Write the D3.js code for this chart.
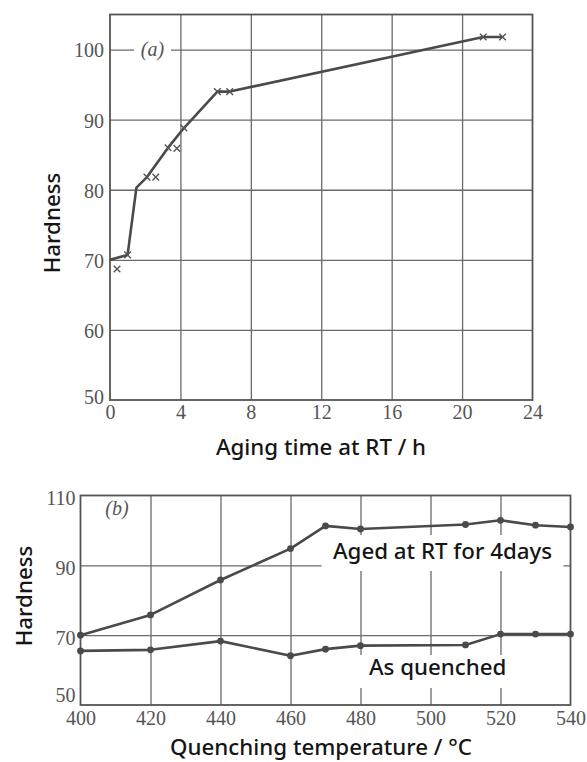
<!DOCTYPE html>
<html>
<head>
<meta charset="utf-8">
<script src="https://cdn.jsdelivr.net/npm/d3@7"></script>
<style>
  html, body { margin: 0; padding: 0; background: #fff; }
  svg { display: block; }
  .tick-label { font-family: "Liberation Serif", "DejaVu Serif", serif; fill: #555; }
  .title { font-family: "Noto Sans", "DejaVu Sans", sans-serif; font-weight: 500; fill: #151515; }
</style>
</head>
<body>
<svg id="chart" width="587" height="762"></svg>
<script>
// (a) hardness vs. aging time at room temperature
const agingTicksX = [0, 4, 8, 12, 16, 20, 24];
const agingTicksY = [50, 60, 70, 80, 90, 100];
const agingCurveTime = [0, 1, 1.5, 2.1, 3.3, 4.2, 6.1, 6.8, 21.2, 22.3];
const agingCurveHardness = [70, 70.7, 80.3, 81.8, 86, 88.8, 94, 94, 101.8, 101.8];
const agingPointTime = [0.4, 1.0, 2.1, 2.6, 3.3, 3.8, 4.2, 6.1, 6.8, 21.2, 22.3];
const agingPointHardness = [68.7, 70.7, 81.8, 81.8, 86, 85.9, 88.8, 94, 94, 101.8, 101.8];

// (b) hardness vs. quenching temperature
const quenchTicksX = [400, 420, 440, 460, 480, 500, 520, 540];
const quenchTicksY = [50, 70, 90, 110];
const quenchTemp = [400, 420, 440, 460, 470, 480, 510, 520, 530, 540];
const agedHardness = [70, 75.8, 85.8, 94.8, 101.3, 100.4, 101.7, 102.9, 101.5, 101.0];
const quenchedHardness = [65.5, 65.8, 68.3, 64.1, 66.0, 67.0, 67.2, 70.3, 70.3, 70.3];

const svg = d3.select("#chart");
const gridColor = "#6a6a6a";
const lineColor = "#4a4a4a";
const tickFont = 20;
const titleFont = 22.3;

function drawFrame(g, x, y, xGrid, yGrid) {
  const [x0, x1] = x.range();
  const [y0, y1] = y.range();
  // grid lines via axes with full-length ticks
  g.append("g")
    .attr("transform", `translate(0,${y0})`)
    .call(d3.axisBottom(x).tickValues(xGrid).tickSize(-(y0 - y1)).tickFormat(""))
    .call(a => a.select(".domain").remove())
    .call(a => a.selectAll("line").attr("stroke", gridColor).attr("stroke-width", 1.3));
  g.append("g")
    .attr("transform", `translate(${x0},0)`)
    .call(d3.axisLeft(y).tickValues(yGrid).tickSize(-(x1 - x0)).tickFormat(""))
    .call(a => a.select(".domain").remove())
    .call(a => a.selectAll("line").attr("stroke", gridColor).attr("stroke-width", 1.3));
  g.append("rect")
    .attr("x", x0).attr("y", y1)
    .attr("width", x1 - x0).attr("height", y0 - y1)
    .attr("fill", "none").attr("stroke", "#555").attr("stroke-width", 1.8);
}

function drawTickLabels(g, x, y, xTicks, yTicks, xPad, yPad, yShift) {
  const [x0] = x.range();
  const [y0] = y.range();
  g.append("g")
    .attr("transform", `translate(0,${y0})`)
    .call(d3.axisBottom(x).tickValues(xTicks).tickSize(0).tickPadding(xPad))
    .call(a => a.select(".domain").remove())
    .call(a => a.selectAll("text").attr("class", "tick-label").attr("font-size", tickFont).attr("fill", "#555"));
  g.append("g")
    .attr("transform", `translate(${x0},0)`)
    .call(d3.axisLeft(y).tickValues(yTicks).tickSize(0).tickPadding(yPad))
    .call(a => a.select(".domain").remove())
    .call(a => a.selectAll("text").attr("class", "tick-label").attr("font-size", tickFont).attr("fill", "#555")
      .attr("dy", d => (yShift(d) + 0.32 * tickFont) + "px"));
}

// ---------- panel (a) ----------
const xa = d3.scaleLinear().domain([0, 24]).range([110, 532.5]);
const ya = d3.scaleLinear().domain([50, 105]).range([400, 14.5]);
const ga = svg.append("g");
drawFrame(ga, xa, ya, [4, 8, 12, 16, 20], [60, 70, 80, 90, 100]);
drawTickLabels(ga, xa, ya, agingTicksX, agingTicksY, 5, 6, d => (d === 50 ? -3 : 1));

// panel tag sitting on the 100 grid line
const tagA = ga.append("g");
tagA.append("rect")
  .attr("x", 134).attr("y", ya(100) - 11)
  .attr("width", 37).attr("height", 22).attr("fill", "#fff");
tagA.append("text")
  .attr("x", 152.5).attr("y", ya(100) + 6)
  .attr("text-anchor", "middle")
  .attr("font-family", "Liberation Serif, serif").attr("font-style", "italic")
  .attr("font-size", 20).attr("fill", "#555")
  .text("(a)");

ga.append("path")
  .datum(d3.zip(agingCurveTime, agingCurveHardness))
  .attr("fill", "none").attr("stroke", lineColor).attr("stroke-width", 2.6)
  .attr("stroke-linejoin", "round")
  .attr("d", d3.line().x(d => xa(d[0])).y(d => ya(d[1])));

const cross = d3.symbol().type(d3.symbolX).size(30);
ga.append("g").selectAll("path")
  .data(d3.zip(agingPointTime, agingPointHardness))
  .join("path")
  .attr("transform", d => `translate(${xa(d[0])},${ya(d[1])})`)
  .attr("d", cross)
  .attr("fill", "none").attr("stroke", "#555").attr("stroke-width", 1.4);

ga.append("text").attr("class", "title")
  .attr("x", 321).attr("y", 455).attr("text-anchor", "middle")
  .attr("font-size", titleFont).text("Aging time at RT / h");
ga.append("text").attr("class", "title")
  .attr("transform", "translate(60,223) rotate(-90)").attr("text-anchor", "middle")
  .attr("font-size", titleFont).text("Hardness");

// ---------- panel (b) ----------
const xb = d3.scaleLinear().domain([400, 540]).range([80.5, 570.5]);
const yb = d3.scaleLinear().domain([50, 110]).range([705, 495.5]);
const gb = svg.append("g");
drawFrame(gb, xb, yb, [420, 440, 460, 480, 500, 520], [70, 90]);
drawTickLabels(gb, xb, yb, quenchTicksX, quenchTicksY, 6, 5, d => (d === 50 ? -10 : 3));

gb.append("text")
  .attr("x", 117).attr("y", yb(104.3))
  .attr("text-anchor", "middle")
  .attr("font-family", "Liberation Serif, serif").attr("font-style", "italic")
  .attr("font-size", 20).attr("fill", "#555")
  .text("(b)");

const lineB = d3.line().x(d => xb(d[0])).y(d => yb(d[1]));
[agedHardness, quenchedHardness].forEach(series => {
  const pts = d3.zip(quenchTemp, series);
  gb.append("path").datum(pts)
    .attr("fill", "none").attr("stroke", lineColor).attr("stroke-width", 2.6)
    .attr("stroke-linejoin", "round").attr("d", lineB);
  gb.append("g").selectAll("circle").data(pts).join("circle")
    .attr("cx", d => xb(d[0])).attr("cy", d => yb(d[1])).attr("r", 3.4)
    .attr("fill", lineColor);
});

// series labels on white boxes
gb.append("rect").attr("x", 321.5).attr("y", 535).attr("width", 242).attr("height", 36).attr("fill", "#fff");
gb.append("text").attr("class", "title")
  .attr("x", 333).attr("y", 559).attr("font-size", titleFont).text("Aged at RT for 4days");
gb.append("rect").attr("x", 357).attr("y", 655).attr("width", 150).attr("height", 33).attr("fill", "#fff");
gb.append("text").attr("class", "title")
  .attr("x", 369).attr("y", 675).attr("font-size", titleFont).text("As quenched");

gb.append("text").attr("class", "title")
  .attr("x", 321).attr("y", 754.5).attr("text-anchor", "middle")
  .attr("font-size", titleFont).text("Quenching temperature / °C");
gb.append("text").attr("class", "title")
  .attr("transform", "translate(32,596) rotate(-90)").attr("text-anchor", "middle")
  .attr("font-size", titleFont).text("Hardness");
</script>
</body>
</html>
